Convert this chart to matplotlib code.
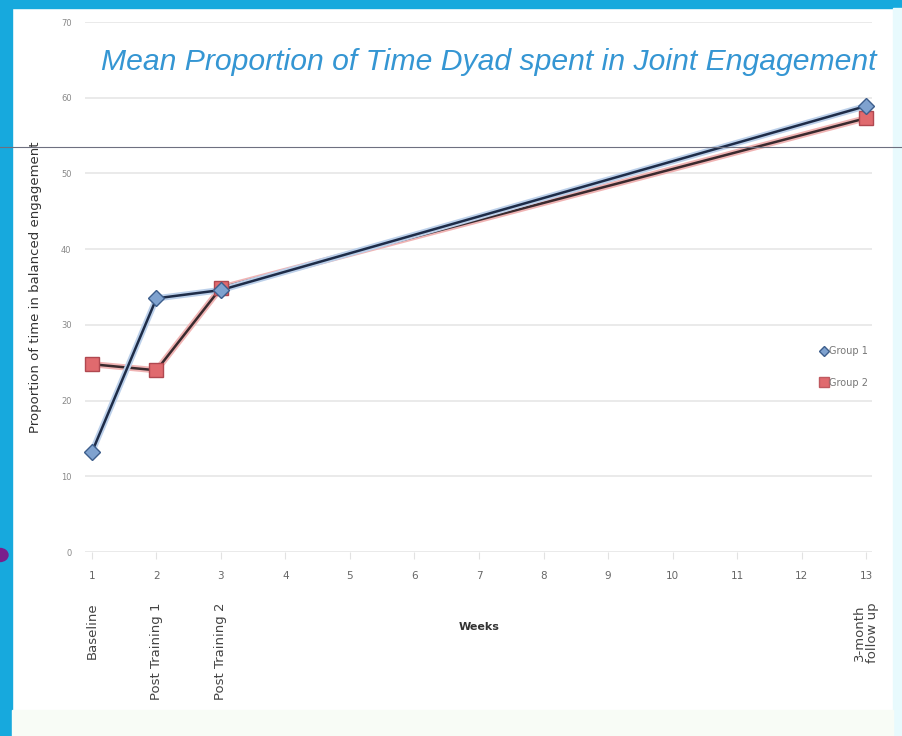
import matplotlib
matplotlib.use("Agg")
import matplotlib.pyplot as plt
from matplotlib.lines import Line2D
from matplotlib.patches import Rectangle, Circle
import matplotlib.patheffects as pe

# data
weeks = [1, 2, 3, 13]
group1 = [13.2, 33.5, 34.6, 58.9]
group2 = [24.8, 24.0, 34.9, 57.3]
xticks = list(range(1, 14))
yticks = [0, 10, 20, 30, 40, 50, 60, 70]
phase_weeks = [1, 2, 3, 13]
phase_labels = ["Baseline", "Post Training 1", "Post Training 2", "3-month\nfollow up"]

W, H = 903, 736
fig = plt.figure(figsize=(W / 100, H / 100), dpi=100)
fig.patch.set_facecolor("white")

# slide frame decorations
fig.add_artist(Rectangle((0, 0), 12 / W, 1, transform=fig.transFigure, color="#17A9DD", zorder=0))
fig.add_artist(Rectangle((0, 1 - 8 / H), 1, 8 / H, transform=fig.transFigure, color="#17A9DD", zorder=0))
fig.add_artist(Rectangle((1 - 10 / W, 0), 10 / W, 1 - 8 / H, transform=fig.transFigure, color="#E8FAFD", zorder=0))
fig.add_artist(Rectangle((12 / W, 0), 1 - 22 / W, 26 / H, transform=fig.transFigure, color="#F8FCF6", zorder=0))
fig.add_artist(Circle((0 / W, 1 - 555 / H), 8 / W, transform=fig.transFigure, color="#7A1F8C", zorder=5))

left = 85.5 / W
right = 872.5 / W
bottom = (H - 552) / H
top = (H - 22) / H
ax = fig.add_axes([left, bottom, right - left, top - bottom])
ax.set_xlim(0.9, 13.1)
ax.set_ylim(0, 70)

for s in ax.spines.values():
    s.set_visible(False)
ax.set_yticks(yticks)
ax.set_xticks(xticks)
ax.yaxis.grid(True, color="#E6E6E6", lw=1.2)
ax.set_axisbelow(True)
ax.tick_params(axis="y", length=0, pad=10, labelsize=6, labelcolor="#888888")
ax.tick_params(axis="x", length=5, color="#E2E2E2", pad=9, labelsize=7.5, labelcolor="#666666")
ax.set_facecolor("white")

glow1 = [pe.Stroke(linewidth=4.5, foreground="#BCD0EA"), pe.Normal()]
glow2 = [pe.Stroke(linewidth=4.5, foreground="#F0B4B4"), pe.Normal()]
ax.plot(weeks, group2, color="#3A2A2E", lw=1.8, path_effects=glow2, zorder=3)
ax.plot(weeks, group1, color="#1E2C48", lw=1.8, path_effects=glow1, zorder=4)
ax.plot(weeks, group2, ls="none", marker="s", ms=10, mfc="#E06A6E", mec="#B04850", zorder=5, clip_on=False)
ax.plot(weeks, group1, ls="none", marker="D", ms=8, mfc="#7FA2CF", mec="#3D5E8C", zorder=6, clip_on=False)

ax.set_ylabel("Proportion of time in balanced engagement", fontsize=9.5, color="#333333", labelpad=14)

# phase labels under the week numbers
for wk, lab in zip(phase_weeks, phase_labels):
    ax.text(wk, -0.095, lab, transform=ax.get_xaxis_transform(), rotation=90,
            ha="center", va="top", fontsize=9.5, color="#444444", linespacing=1.0)
ax.text(7, -0.1415, "Weeks", transform=ax.get_xaxis_transform(), ha="center", va="center",
        fontsize=8, fontweight="bold", color="#333333")

# legend
handles = [Line2D([], [], ls="none", marker="D", ms=5, mfc="#7FA2CF", mec="#3D5E8C"),
           Line2D([], [], ls="none", marker="s", ms=7, mfc="#E06A6E", mec="#C05A60")]
fig.legend(handles, ["Group 1", "Group 2"], loc="center left",
           bbox_to_anchor=(812 / W, 1 - 367 / H), frameon=False, fontsize=7,
           labelcolor="#777777", handlelength=0.6, handletextpad=0.3, labelspacing=2.2)

fig.text(489 / W, 1 - 62 / H, "Mean Proportion of Time Dyad spent in Joint Engagement",
         ha="center", va="center", fontsize=21.7, style="italic", color="#3596D3",
         family="Liberation Sans")

# thin grey rule across the slide
fig.add_artist(Line2D([0, 1], [1 - 147 / H, 1 - 147 / H], transform=fig.transFigure,
                      color="#6E7080", lw=0.8, zorder=10))

fig.savefig("out.png", dpi=100)
